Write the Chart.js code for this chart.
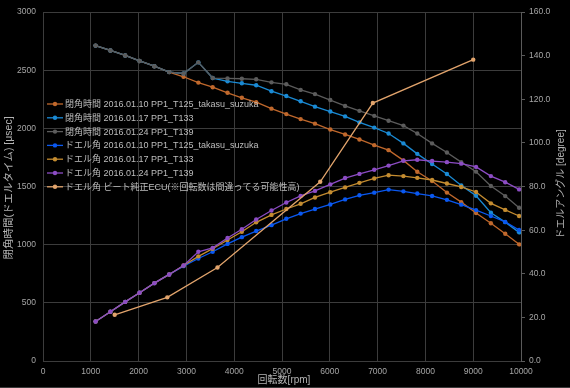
<!DOCTYPE html>
<html><head><meta charset="utf-8">
<script src="https://cdn.jsdelivr.net/npm/chart.js@4/dist/chart.umd.min.js"></script>
<style>html,body{margin:0;padding:0;background:#000;}canvas{display:block;}</style>
</head><body>
<canvas id="c" width="570" height="388"></canvas>
<script>
const rpm = [1100,1410,1720,2020,2330,2640,2940,3250,3550,3860,4160,4460,4780,5090,5390,5690,6010,6320,6620,6930,7230,7540,7830,8140,8450,8750,9060,9370,9670,9960];
const closed0110 = [2712,2670,2627,2580,2535,2484,2444,2394,2354,2306,2263,2225,2170,2123,2080,2041,1990,1948,1905,1856,1813,1725,1627,1548,1448,1366,1272,1185,1094,1003];
const closed0117 = [2712,2670,2627,2580,2535,2484,2472,2568,2433,2405,2388,2371,2320,2278,2233,2187,2145,2103,2052,2007,1956,1871,1781,1694,1608,1510,1421,1275,1194,1106];
const closed0124 = [2712,2670,2627,2580,2535,2484,2472,2568,2433,2430,2427,2422,2396,2379,2331,2295,2244,2193,2151,2108,2066,2024,1956,1871,1793,1710,1628,1505,1418,1318];
const dwell0110 = [18.1,22.6,27.1,31.3,35.7,39.7,43.5,47.0,50.1,53.7,56.8,59.6,62.3,65.2,67.6,69.7,71.8,74.1,76.0,77.2,78.6,77.8,76.8,75.7,73.9,71.7,69.2,66.5,63.8,60.1];
const dwell0117 = [18.1,22.6,27.1,31.3,35.7,39.7,43.8,48.0,51.5,55.5,59.3,63.6,67.0,69.7,72.1,75.0,77.4,79.6,81.7,83.7,85.2,84.8,84.0,83.0,81.4,79.8,77.5,72.3,69.3,66.5];
const dwell0124 = [18.1,22.6,27.1,31.3,35.7,39.7,43.8,50.1,51.9,56.4,60.4,64.9,69.0,72.7,75.7,78.0,81.0,83.9,85.8,87.7,89.6,91.8,92.3,91.7,91.2,90.5,89.0,84.8,82.0,78.7];
const ecuRpm = [1500,2600,3650,5800,6900,9000];
const ecuDwell = [21.2,29.2,42.9,82.2,118.3,138.2];

const labels = [
  "閉角時間 2016.01.10 PP1_T125_takasu_suzuka",
  "閉角時間 2016.01.17 PP1_T133",
  "閉角時間 2016.01.24 PP1_T139",
  "ドエル角 2016.01.10 PP1_T125_takasu_suzuka",
  "ドエル角 2016.01.17 PP1_T133",
  "ドエル角 2016.01.24 PP1_T139",
  "ドエル角 ビート純正ECU(※回転数は間違ってる可能性高)"
];
const colors = ['#c0682c','#1a8ad4','#5c5c5c','#0a58f0','#c48c30','#8c4cc4','#e2a46c'];
const xTitle = "回転数[rpm]";
const yLeftTitle = "閉角時間(ドエルタイム) [μsec]";
const yRightTitle = "ドエルアングル [degree]";

const pts = (xs, ys) => xs.map((x, i) => ({x: x, y: ys[i]}));
const series = [
  {d: pts(rpm, closed0110), ax: 'yL'},
  {d: pts(rpm, closed0117), ax: 'yL'},
  {d: pts(rpm, closed0124), ax: 'yL'},
  {d: pts(rpm, dwell0110), ax: 'yR'},
  {d: pts(rpm, dwell0117), ax: 'yR'},
  {d: pts(rpm, dwell0124), ax: 'yR'},
  {d: pts(ecuRpm, ecuDwell), ax: 'yR'}
];
const datasets = series.map((s, i) => ({
  label: labels[i], data: s.d, yAxisID: s.ax,
  borderColor: colors[i], backgroundColor: colors[i],
  borderWidth: 1.3, pointRadius: 2.2, pointBorderWidth: 0, pointStyle: 'circle',
  tension: 0, order: -i
}));

const TICK = '#a6a6a6', GRID = '#3c3c3c';
const tickFont = {family: '"Liberation Sans","Noto Sans CJK JP"', size: 8.5};
const jp = '"Liberation Sans","Noto Sans CJK JP"';

const extras = {
  id: 'extras',
  afterDraw(chart) {
    const ctx = chart.ctx;
    ctx.save();
    ctx.fillStyle = '#b4b4b4';
    ctx.textAlign = 'center'; ctx.textBaseline = 'middle';
    ctx.font = '10px ' + jp;
    ctx.fillText(xTitle, 284, 380);
    ctx.save(); ctx.translate(9, 188); ctx.rotate(-Math.PI/2);
    ctx.font = '10.5px ' + jp; ctx.fillText(yLeftTitle, 0, 0); ctx.restore();
    ctx.save(); ctx.translate(561, 184); ctx.rotate(-Math.PI/2);
    ctx.font = '10px ' + jp; ctx.fillText(yRightTitle, 0, 0); ctx.restore();
    ctx.textAlign = 'left';
    ctx.font = '9px ' + jp;
    chart.data.datasets.forEach((ds, i) => {
      const y = 104 + i * 13.8;
      ctx.strokeStyle = ds.borderColor; ctx.lineWidth = 1.3;
      ctx.beginPath(); ctx.moveTo(47, y); ctx.lineTo(63, y); ctx.stroke();
      ctx.fillStyle = ds.borderColor;
      ctx.beginPath(); ctx.arc(55, y, 2.2, 0, Math.PI*2); ctx.fill();
      ctx.fillStyle = '#bdbdbd';
      ctx.fillText(ds.label, 65, y + 0.5);
    });
    ctx.strokeStyle = '#3a3a3a'; ctx.lineWidth = 1;
    ctx.beginPath(); ctx.moveTo(0, 387.5); ctx.lineTo(570, 387.5); ctx.stroke();
    ctx.restore();
  }
};

new Chart(document.getElementById('c'), {
  type: 'line',
  data: {datasets: datasets},
  plugins: [extras],
  options: {
    responsive: false, animation: false, devicePixelRatio: 1,
    layout: {padding: {top: 7, left: 0, right: 0, bottom: 0}},
    plugins: {legend: {display: false}, tooltip: {enabled: false}},
    scales: {
      x: {
        type: 'linear', min: 0, max: 10000,
        ticks: {stepSize: 1000, color: TICK, font: tickFont, padding: 6, maxRotation: 0, autoSkip: false, callback: v => String(v)},
        grid: {color: GRID, drawTicks: false},
        border: {color: GRID},
        afterFit(s) { s.height = 27; }
      },
      yL: {
        position: 'left', min: 0, max: 3000,
        ticks: {stepSize: 500, color: TICK, font: tickFont, padding: 7, callback: v => String(v)},
        grid: {color: GRID, drawTicks: false},
        border: {color: GRID},
        afterFit(s) { s.width = 43; }
      },
      yR: {
        position: 'right', min: 0, max: 160,
        ticks: {stepSize: 20, color: TICK, font: tickFont, padding: 4, callback: v => v.toFixed(1)},
        grid: {drawOnChartArea: false, drawTicks: true, tickLength: 4, color: '#5a5a5a'},
        border: {color: '#5a5a5a'},
        afterFit(s) { s.width = 49; }
      }
    }
  }
});
</script>
</body></html>
